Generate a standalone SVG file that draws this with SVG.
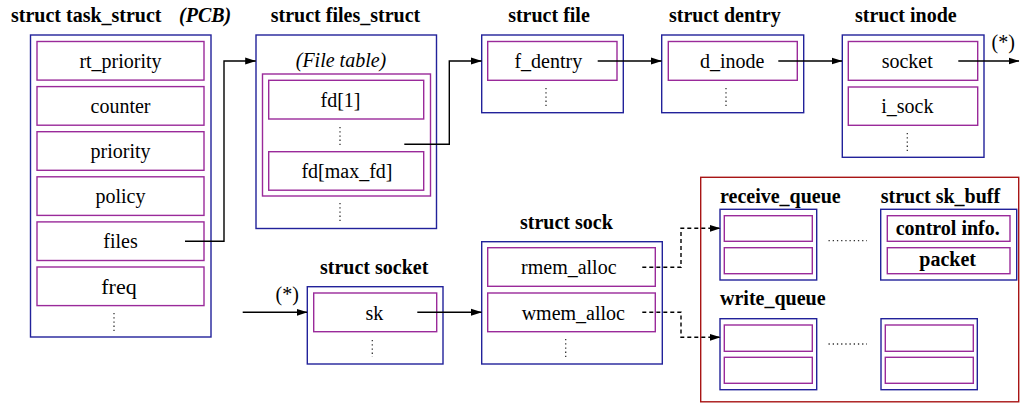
<svg xmlns="http://www.w3.org/2000/svg" width="1020" height="403" viewBox="0 0 1020 403" font-family="'Liberation Serif', 'Times New Roman', serif" font-size="20">
<style>
.ob{fill:none;stroke:#22229a;stroke-width:1.4}
.ib{fill:none;stroke:#9a2a9a;stroke-width:1.4}
.rb{fill:none;stroke:#a81515;stroke-width:1.4}
.dot{stroke:#333;stroke-width:1.3;stroke-dasharray:1.3 2.9;fill:none}
.c{fill:none;stroke:#000;stroke-width:1.4}
.d{fill:none;stroke:#000;stroke-width:1.4;stroke-dasharray:4 3}
</style>
<defs>
<marker id="ah" markerWidth="11" markerHeight="8" refX="10.5" refY="4" orient="auto" markerUnits="userSpaceOnUse">
<path d="M0,0.5 L11,4 L0,7.5 z" fill="#000"/>
</marker>
</defs>
<rect width="1020" height="403" fill="#fff"/>

<g id="task_struct">
<text x="11" y="22" font-family="Liberation Serif" font-weight="bold">struct task_struct</text>
<text x="179" y="22" font-family="Liberation Serif" font-weight="bold" font-style="italic">(PCB)</text>
<rect class="ob" x="30.5" y="35" width="180.5" height="302"/>
<rect class="ib" x="37" y="41.5" width="167" height="38.6"/>
<text x="120.5" y="68" font-family="Liberation Serif" text-anchor="middle">rt_priority</text>
<rect class="ib" x="37" y="86.6" width="167" height="38.6"/>
<text x="120.5" y="113" font-family="Liberation Serif" text-anchor="middle">counter</text>
<rect class="ib" x="37" y="131.7" width="167" height="38.6"/>
<text x="120.5" y="158" font-family="Liberation Serif" text-anchor="middle">priority</text>
<rect class="ib" x="37" y="176.8" width="167" height="38.6"/>
<text x="120.5" y="203" font-family="Liberation Serif" text-anchor="middle">policy</text>
<rect class="ib" x="37" y="221.9" width="167" height="38.6"/>
<text x="120.5" y="248" font-family="Liberation Serif" text-anchor="middle">files</text>
<rect class="ib" x="37" y="267" width="167" height="38.6"/>
<text x="119" y="294" font-family="Liberation Serif" font-size="22" text-anchor="middle">freq</text>
<line class="dot" x1="114" y1="313" x2="114" y2="331"/>
</g>

<g id="files_struct">
<text x="345.5" y="22" font-family="Liberation Serif" font-weight="bold" text-anchor="middle">struct files_struct</text>
<rect class="ob" x="256" y="35" width="180.5" height="193.5"/>
<text x="341" y="67" font-family="Liberation Serif" font-style="italic" text-anchor="middle">(File table)</text>
<rect class="ib" x="262.5" y="74" width="168" height="122"/>
<rect class="ib" x="268.7" y="80.3" width="155" height="38.7"/>
<text x="340.5" y="107" font-family="Liberation Serif" text-anchor="middle">fd[1]</text>
<line class="dot" x1="340" y1="127" x2="340" y2="145"/>
<rect class="ib" x="268.7" y="151.7" width="155" height="38.5"/>
<text x="347" y="178" font-family="Liberation Serif" text-anchor="middle">fd[max_fd]</text>
<line class="dot" x1="340" y1="203" x2="340" y2="221"/>
</g>

<g id="file">
<text x="549" y="22" font-family="Liberation Serif" font-weight="bold" text-anchor="middle">struct file</text>
<rect class="ob" x="481.7" y="35" width="141.6" height="77.7"/>
<rect class="ib" x="487.7" y="41.5" width="129.3" height="38.8"/>
<text x="548.3" y="68" font-family="Liberation Serif" text-anchor="middle">f_dentry</text>
<line class="dot" x1="546" y1="88" x2="546" y2="106"/>
</g>

<g id="dentry">
<text x="669" y="22" font-family="Liberation Serif" font-weight="bold">struct dentry</text>
<rect class="ob" x="661.7" y="35" width="142" height="77.7"/>
<rect class="ib" x="668.3" y="41.5" width="129" height="38.8"/>
<text x="732.2" y="68" font-family="Liberation Serif" text-anchor="middle">d_inode</text>
<line class="dot" x1="726" y1="88" x2="726" y2="106"/>
</g>

<g id="inode">
<text x="855" y="22" font-family="Liberation Serif" font-weight="bold">struct inode</text>
<rect class="ob" x="842.3" y="35" width="141.7" height="122.3"/>
<rect class="ib" x="848.3" y="41.5" width="129.4" height="38.8"/>
<text x="907.2" y="68" font-family="Liberation Serif" text-anchor="middle">socket</text>
<rect class="ib" x="848.3" y="87" width="129.4" height="38.3"/>
<text x="907.3" y="113" font-family="Liberation Serif" text-anchor="middle">i_sock</text>
<line class="dot" x1="907.3" y1="133" x2="907.3" y2="151"/>
<text x="991.5" y="49" font-family="Liberation Serif">(*)</text>
</g>

<g id="socket">
<text x="320" y="274" font-family="Liberation Serif" font-weight="bold">struct socket</text>
<text x="275.5" y="301" font-family="Liberation Serif">(*)</text>
<rect class="ob" x="307.3" y="286.7" width="135.7" height="77.3"/>
<rect class="ib" x="313.7" y="293" width="123" height="38.7"/>
<text x="374.3" y="319.5" font-family="Liberation Serif" text-anchor="middle">sk</text>
<line class="dot" x1="372.3" y1="340" x2="372.3" y2="357"/>
</g>

<g id="sock">
<text x="520" y="229" font-family="Liberation Serif" font-weight="bold">struct sock</text>
<rect class="ob" x="481.7" y="241.7" width="180.6" height="122.3"/>
<rect class="ib" x="487.7" y="247.7" width="167.6" height="38.6"/>
<text x="568.8" y="274" font-family="Liberation Serif" text-anchor="middle">rmem_alloc</text>
<rect class="ib" x="487.7" y="293" width="167.6" height="38.7"/>
<text x="573.3" y="319.5" font-family="Liberation Serif" text-anchor="middle">wmem_alloc</text>
<line class="dot" x1="565.7" y1="339" x2="565.7" y2="357"/>
</g>

<g id="sk_buff_area">
<rect class="rb" x="700.7" y="177.3" width="318" height="224.5"/>
<text x="720" y="203" font-family="Liberation Serif" font-weight="bold">receive_queue</text>
<text x="880.7" y="203" font-family="Liberation Serif" font-weight="bold">struct sk_buff</text>
<text x="720" y="305" font-family="Liberation Serif" font-weight="bold">write_queue</text>
</g>

<g id="receive_queue">
<rect class="ob" x="720" y="209.3" width="96.7" height="70.7"/>
<rect class="ib" x="724.3" y="215.7" width="88" height="25.6"/>
<rect class="ib" x="724.3" y="247.7" width="88" height="26"/>
<line class="dot" x1="828.5" y1="240.7" x2="867" y2="240.7" stroke-dasharray="1.3 4"/>
</g>

<g id="sk_buff">
<rect class="ob" x="880.7" y="209.3" width="136" height="70.7"/>
<rect class="ib" x="887.3" y="215.7" width="122.7" height="25.6"/>
<text x="947.7" y="235" font-family="Liberation Serif" font-weight="bold" text-anchor="middle">control info.</text>
<rect class="ib" x="887.3" y="247.7" width="122.7" height="26"/>
<text x="947.7" y="266" font-family="Liberation Serif" font-weight="bold" text-anchor="middle">packet</text>
</g>

<g id="write_queue">
<rect class="ob" x="720" y="318.7" width="96.7" height="71"/>
<rect class="ib" x="724.3" y="325" width="88" height="26.3"/>
<rect class="ib" x="724.3" y="357.3" width="88" height="26"/>
<line class="dot" x1="828.5" y1="344" x2="867" y2="344" stroke-dasharray="1.3 4"/>
</g>

<g id="write_buff">
<rect class="ob" x="881" y="318.7" width="96.3" height="71"/>
<rect class="ib" x="885.3" y="325" width="88" height="26.3"/>
<rect class="ib" x="885.3" y="357.3" width="88" height="26"/>
</g>

<g id="connectors">
<path class="c" d="M185,241.2 H224 V61 H255.7" marker-end="url(#ah)"/>
<path class="c" d="M404.3,144.3 H449.3 V61 H481.5" marker-end="url(#ah)"/>
<path class="c" d="M597.7,61 H661.5" marker-end="url(#ah)"/>
<path class="c" d="M778.3,61 H842" marker-end="url(#ah)"/>
<path class="c" d="M958.3,61 H1019" marker-end="url(#ah)"/>
<path class="c" d="M242.7,312.3 H307" marker-end="url(#ah)"/>
<path class="c" d="M417.3,312.3 H481.5" marker-end="url(#ah)"/>
<path class="d" d="M642.3,267.3 H681 V228.3 H720" marker-end="url(#ah)"/>
<path class="d" d="M642.3,312.3 H681 V337.3 H720" marker-end="url(#ah)"/>
</g>
</svg>
